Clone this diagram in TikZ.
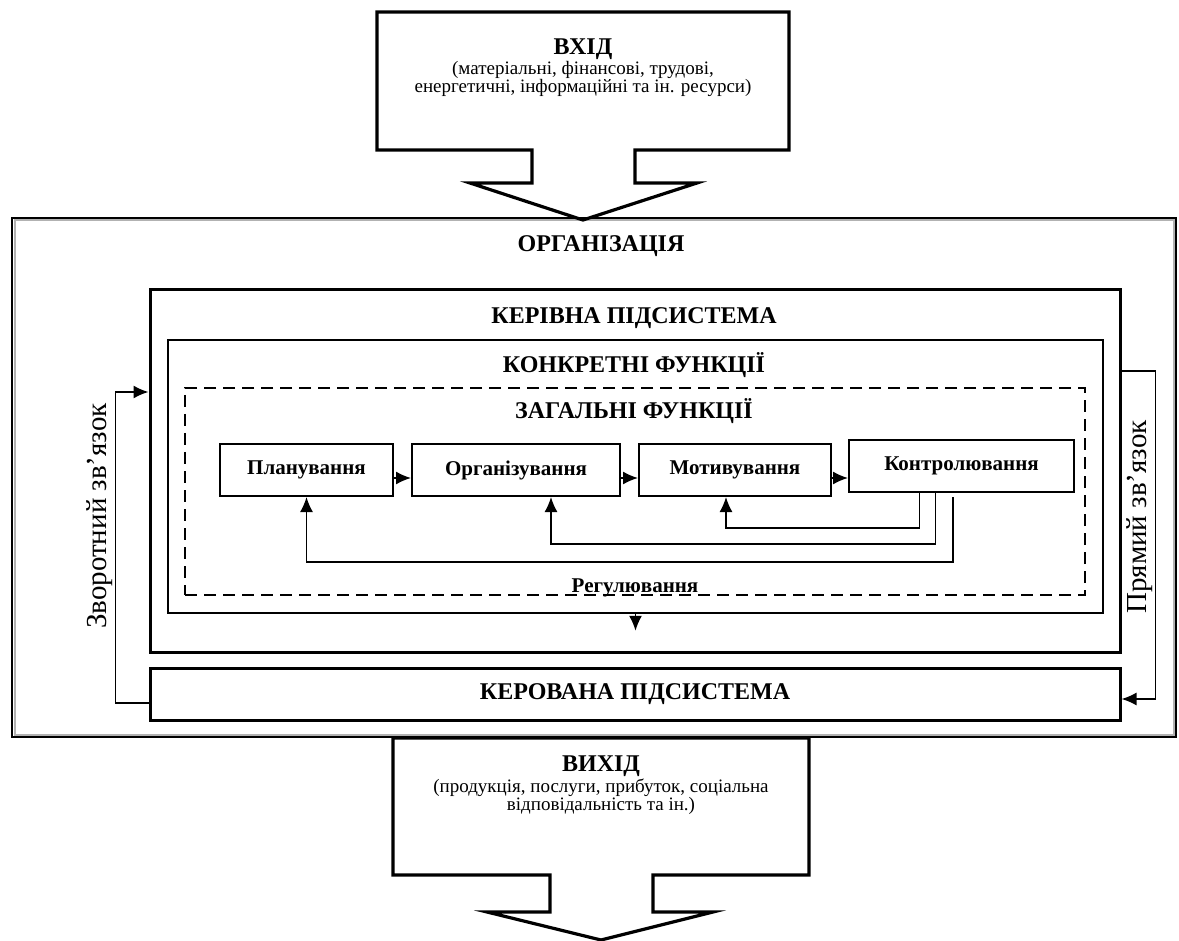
\documentclass[tikz,border=0pt]{standalone}
\usepackage{fontspec}
\setmainfont{Liberation Serif}
\usetikzlibrary{positioning,fit,arrows.meta}

\tikzset{
  thickbox/.style={draw, line width=1.5pt, inner sep=0pt},
  thinbox/.style={draw, line width=0.8pt, inner sep=0pt},
  dashbox/.style={draw, line width=0.8pt, dash pattern=on 6pt off 3.5pt, inner sep=0pt},
  func/.style={draw, line width=1pt, minimum height=26pt, inner sep=2pt,
    font=\fontsize{10.5}{12}\selectfont\bfseries},
  title/.style={font=\fontsize{12}{14}\selectfont\bfseries},
  subtext/.style={align=center, font=\fontsize{9.5}{9}\selectfont},
  conn/.style={line width=0.8pt, -{Latex[length=7.5pt,width=6.5pt]}},
  sidelabel/.style={rotate=90, font=\fontsize{14.5}{17}\selectfont},
  callout/.style={line width=1.6pt, line join=miter},
}

\begin{document}
\begin{tikzpicture}[x=0.5pt, y=-0.5pt]
  \useasboundingbox (0,0) rectangle (1179,941);

  % organisation frame
  \node[fit={(12,218) (1176,737)}, draw, line width=1pt, inner sep=0pt] (organiz) {};
  \draw[gray!60, line width=1pt] (14.5,220.5) rectangle (1173.5,734.5);
  \node[title] (orgtitle) at (601,246) {ОРГАНІЗАЦІЯ};

  % input
  \draw[callout] (377,12) -- (789,12) -- (789,150) -- (635,150) -- (635,183)
    -- (697,183) -- (583,220) -- (470,183) -- (532,183) -- (532,150)
    -- (377,150) -- cycle;
  \node[title] (vhid) at (583,49) {ВХІД};
  \node[subtext, below=-6pt of vhid] (vhidtxt) {(матеріальні, фінансові, трудові,\\
    енергетичні, інформаційні та ін. ресурси)};

  % subsystems
  \node[thickbox, fit={(150,290) (1120,652)}] (keriv) {};
  \node[title] (kerivtitle) at (634,318) {КЕРІВНА ПІДСИСТЕМА};
  \node[thinbox, fit={(168,340) (1103,613)}] (konkr) {};
  \node[title] (konkrtitle) at (634,365) {КОНКРЕТНІ ФУНКЦІЇ};
  \node[dashbox, fit={(185,388) (1085,595)}] (zag) {};
  \node[title] (zagtitle) at (634,411) {ЗАГАЛЬНІ ФУНКЦІЇ};
  \node[thickbox, fit={(150,668) (1120,720)}] (kerov) {};
  \node[title] (kerovtitle) at (kerov.center) {КЕРОВАНА ПІДСИСТЕМА};

  % general functions
  \node[func, minimum width=86.5pt] (plan) at (306.5,470) {Планування};
  \node[func, minimum width=104pt, right=8.5pt of plan] (orgf) {Організування};
  \node[func, minimum width=96pt, right=8.5pt of orgf] (motiv) {Мотивування};
  \node[func, minimum width=112.5pt, right=8pt of motiv, yshift=2pt] (kontr) {Контролювання};
  \node[font=\fontsize{10.5}{12}\selectfont\bfseries, anchor=base] (regul) at (635,592) {Регулювання};

  \draw[conn] ([yshift=-4pt]plan.east) -- ([yshift=-4pt]plan.east -| orgf.west);
  \draw[conn] ([yshift=-4pt]orgf.east) -- ([yshift=-4pt]orgf.east -| motiv.west);
  \draw[conn] ([yshift=-4pt]motiv.east) -- ([yshift=-4pt]motiv.east -| kontr.west);

  % regulation loops
  \draw[conn] ([xshift=-21pt]kontr.south) -- ++(0,35) -| ([xshift=-4.5pt]motiv.south);
  \draw[conn] ([xshift=-13pt]kontr.south) -- ++(0,51) -| ([xshift=17.5pt]orgf.south);
  \draw[conn] ([xshift=-4.25pt,yshift=-2pt]kontr.south) -- ++(0,65) -| (plan.south);
  \draw[conn] (konkr.south) -- ++(0,17);

  % feedback and direct link
  \draw[conn] ([yshift=-4.5pt]kerov.west) -- ++(-33,0) |- ([yshift=39.5pt]keriv.west);
  \node[sidelabel] (zvor) at (100,516) {Зворотний зв’язок};
  \draw[conn] ([yshift=50pt]keriv.east) -- ++(34,0) |- ([yshift=-2.5pt]kerov.east);
  \node[sidelabel] (pryam) at (1140,517) {Прямий зв’язок};

  % output
  \draw[callout] (393,738) -- (809,738) -- (809,875) -- (653,875) -- (653,912)
    -- (713,912) -- (601,940) -- (487,912) -- (550,912) -- (550,875)
    -- (393,875) -- cycle;
  \node[title] (vyhid) at (601,766) {ВИХІД};
  \node[subtext, below=-6pt of vyhid] (vyhidtxt) {(продукція, послуги, прибуток, соціальна\\
    відповідальність та ін.)};
\end{tikzpicture}
\end{document}
